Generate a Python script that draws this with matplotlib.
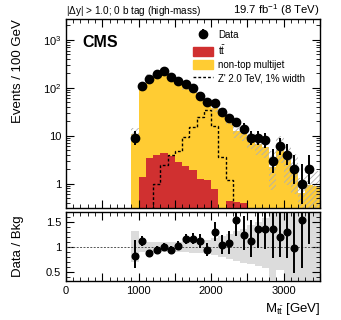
import numpy as np
import matplotlib
matplotlib.use("Agg")
import matplotlib.pyplot as plt
from matplotlib.ticker import MultipleLocator, FixedLocator, FixedFormatter, LogLocator, NullFormatter, FuncFormatter
from matplotlib.lines import Line2D
from matplotlib.patches import Patch

plt.rcParams['font.family'] = ['Liberation Sans', 'DejaVu Sans']
plt.rcParams['mathtext.fontset'] = 'custom'
plt.rcParams['mathtext.rm'] = 'Liberation Sans'
plt.rcParams['mathtext.it'] = 'Liberation Sans:italic'
plt.rcParams['hatch.linewidth'] = 0.6

# bin edges, 100 GeV wide, 900 - 3500 GeV
edges = np.arange(900, 3600, 100)

# total background (ttbar + non-top multijet) per bin
bkg_total = [11.1, 97, 178, 202, 222, 177, 137, 103, 87, 60, 54, 37, 31, 21.5,
             12.3, 11.3, 8.1, 6.6, 5.9, 2.2, 5.0, 3.1, 2.06, 0.65, 0.95, 0.9]
# ttbar component
ttbar = [0.01, 1.4, 3.4, 4.0, 4.4, 3.7, 2.8, 2.3, 1.94, 1.27, 1.2, 0.79, 0.01, 0.44,
         0.42, 0.39, 0.01, 0.01, 0.01, 0.01, 0.01, 0.01, 0.01, 0.01, 0.01, 0.01]
# relative background uncertainty (lower / upper)
unc_lo = [0.69, 0.90, 0.90, 0.90, 0.90, 0.90, 0.89, 0.89, 0.88, 0.87, 0.85, 0.83, 0.79,
          0.76, 0.72, 0.68, 0.65, 0.61, 0.57, 0.33, 0.54, 0.3, 0.3, 0.3, 0.3, 0.3]
unc_hi = [1.31, 1.09, 1.09, 1.09, 1.09, 1.10, 1.10, 1.11, 1.12, 1.14, 1.14, 1.17, 1.21,
          1.25, 1.31, 1.36, 1.43, 1.49, 1.57, 2.2, 2.0, 2.0, 2.0, 2.0, 2.0, 2.0]

# observed data
data_x = np.arange(950, 3400, 100)
data_n = [9, 108, 155, 190, 224, 168, 140, 119, 101, 67, 51, 48, 32, 23, 19, 14,
          9, 9, 8, 3, 6, 4, 2, 1, 2]

# Z' 2.0 TeV signal
zp_edges = np.arange(1200, 2400, 100)
zp_vals = [1.0, 2.4, 3.9, 4.9, 9.3, 15, 24, 34, 16, 3.6, 1.17]

red = '#D03030'
yellow = '#FFCC33'

bkg_total = np.array(bkg_total)
ttbar = np.array(ttbar)
unc_lo = np.array(unc_lo)
unc_hi = np.array(unc_hi)
data_n = np.array(data_n, dtype=float)
err_lo = data_n - (data_n + 0.5 - np.sqrt(data_n + 0.25))
err_hi = (data_n + 0.5 + np.sqrt(data_n + 0.25)) - data_n

fig = plt.figure(figsize=(3.41, 3.2), dpi=100)
ax = fig.add_axes([0.1935, 0.35, 0.7445, 0.59])
axr = fig.add_axes([0.1935, 0.122, 0.7445, 0.2155])

# main panel
ax.stairs(bkg_total, edges, baseline=1e-3, fill=True, color=yellow, lw=0)
ax.stairs(ttbar, edges, baseline=1e-3, fill=True, color=red, lw=0)
ax.stairs(bkg_total * unc_hi, edges, baseline=bkg_total * unc_lo, fill=True,
          facecolor='none', edgecolor='#b0b0b0', hatch='//////', lw=0)
ax.stairs(zp_vals, zp_edges, baseline=1e-3, color='black', lw=1.0,
          linestyle=(0, (2, 1.5)))
eb = ax.errorbar(data_x, data_n, yerr=[err_lo, err_hi], fmt='o', color='black',
                 ms=6, elinewidth=1.4, capsize=0)

ax.set_yscale('log')
ax.set_ylim(0.31, 2700)
ax.set_xlim(0, 3500)
ax.yaxis.set_major_locator(FixedLocator([1, 10, 100, 1000]))
ax.yaxis.set_major_formatter(FixedFormatter(['1', '10', '$10^{2}$', '$10^{3}$']))
ax.yaxis.set_minor_locator(LogLocator(base=10, subs=np.arange(2, 10), numticks=20))
ax.yaxis.set_minor_formatter(NullFormatter())
ax.xaxis.set_major_locator(MultipleLocator(500))
ax.xaxis.set_minor_locator(MultipleLocator(100))
ax.tick_params(axis='x', labelbottom=False)
ax.tick_params(which='both', direction='in', top=True, right=True, labelsize=8)
ax.tick_params(which='major', length=6)
ax.tick_params(which='minor', length=3)
ax.set_ylabel('Events / 100 GeV', fontsize=9.5, loc='top')
ax.yaxis.set_label_coords(-0.165, 1.0)

ax.text(0.0, 1.008, r'|$\Delta$y| > 1.0; 0 b tag (high-mass)', transform=ax.transAxes,
        fontsize=7.2, ha='left', va='bottom')
ax.text(1.0, 1.004, r'19.7 fb$^{-1}$ (8 TeV)', transform=ax.transAxes,
        fontsize=8.2, ha='right', va='bottom')
ax.text(0.065, 0.915, 'CMS', transform=ax.transAxes, fontsize=11.5,
        fontweight='bold', ha='left', va='top')

handles = [eb, Patch(color=red), Patch(color=yellow),
           Line2D([], [], color='black', lw=1.0, linestyle=(0, (2, 1.5)))]
labels = ['Data', r't$\bar{\mathrm{t}}$', 'non-top multijet', "Z' 2.0 TeV, 1% width"]
ax.legend(handles, labels, loc='upper left', bbox_to_anchor=(0.48, 0.97),
          frameon=False, fontsize=7, handlelength=2.1, handletextpad=0.5,
          labelspacing=0.32, borderpad=0, handleheight=1.1)

# ratio panel
ratio = data_n / bkg_total[:len(data_n)]
r_lo = err_lo / bkg_total[:len(data_n)]
r_hi = err_hi / bkg_total[:len(data_n)]
axr.stairs(unc_hi, edges, baseline=unc_lo, fill=True, color='#dcdcdc', lw=0)
axr.axhline(1.0, color='#555555', lw=0.7, linestyle=(0, (2, 1.5)))
axr.errorbar(data_x, ratio, yerr=[r_lo, r_hi], fmt='o', color='black',
             ms=4.8, elinewidth=1.4, capsize=0)
axr.set_xlim(0, 3500)
axr.set_ylim(0.32, 1.7)
axr.yaxis.set_major_locator(FixedLocator([0.5, 1.0, 1.5]))
axr.yaxis.set_major_formatter(FixedFormatter(['0.5', '1', '1.5']))
axr.yaxis.set_minor_locator(MultipleLocator(0.1))
axr.xaxis.set_major_locator(MultipleLocator(500))
axr.xaxis.set_minor_locator(MultipleLocator(100))
axr.xaxis.set_major_formatter(FuncFormatter(lambda v, p: '%d' % v if v % 1000 == 0 else ''))
axr.tick_params(which='both', direction='in', top=True, right=True, labelsize=8)
axr.tick_params(which='major', length=6)
axr.tick_params(which='minor', length=3)
axr.set_ylabel('Data / Bkg', fontsize=9.5)
axr.yaxis.set_label_coords(-0.165, 0.5)
axr.set_xlabel(r'M$_{\mathrm{t\bar{t}}}$ [GeV]', fontsize=9.5, loc='right')

for a in (ax, axr):
    for s in a.spines.values():
        s.set_linewidth(1.0)

fig.savefig('out.png', dpi=100)
